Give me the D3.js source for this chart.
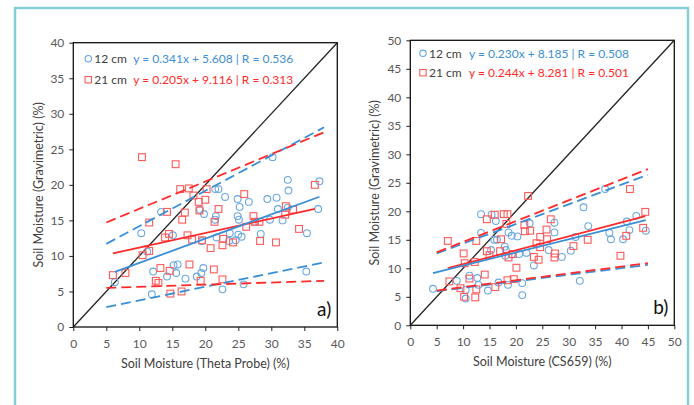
<!DOCTYPE html>
<html>
<head>
<meta charset="utf-8">
<script src="https://cdn.jsdelivr.net/npm/d3@7"></script>
<style>
  body { margin: 0; background: #fff; }
  svg { display: block; font-family: Lato, "Open Sans", sans-serif; }
</style>
</head>
<body>
<svg width="694" height="405"></svg>
<script>
// panel a) Theta Probe vs gravimetric
var a12 = [[6.3,6.3],[10.3,13.2],[11.2,10.6],[12.1,7.8],[11.9,4.6],[13.3,16.2],[14.2,7.1],[15.1,12.9],[15.2,8.7],[15.8,8.8],
    [15.6,7.6],[17.0,6.8],[18.7,7.1],[19.4,7.6],[19.7,8.3],[19.2,16.5],[19.8,15.9],[19.5,12.1],[21.5,19.4],[22.0,19.4],
    [23.0,18.3],[24.9,18.0],[25.2,16.9],[26.6,17.6],[21.6,15.6],[21.5,15.1],[24.9,15.6],[25.1,15.1],[21.7,12.6],[23.7,13.2],
    [23.6,12.1],[24.6,12.2],[25.0,13.0],[25.5,12.7],[22.6,5.3],[25.8,6.0],[27.5,14.8],[28.4,13.1],[29.4,18.0],[29.8,15.1],
    [30.8,18.2],[30.2,23.9],[31.0,16.6],[31.7,15.0],[32.5,20.7],[32.6,19.2],[32.5,16.8],[35.4,13.2],[35.3,7.8],[37.3,20.5],
    [37.1,16.6]];
var a21 = [[6.0,7.3],[7.9,7.6],[10.4,23.9],[10.5,10.1],[11.5,10.7],[11.5,14.7],[12.5,6.5],[12.9,6.2],[13.2,8.3],[13.9,12.6],
    [14.5,13.1],[14.2,16.2],[14.6,7.9],[14.7,4.7],[15.5,22.9],[16.2,19.4],[16.4,5.0],[16.5,15.1],[16.9,16.1],[17.3,12.9],
    [17.5,19.5],[17.6,8.8],[18.0,12.3],[18.2,18.5],[19.0,17.6],[19.1,16.4],[19.3,6.5],[19.5,12.2],[20.0,17.9],[20.2,19.4],
    [20.8,11.1],[21.3,8.1],[21.4,14.8],[22.0,16.6],[22.6,11.5],[22.6,6.7],[22.7,12.4],[24.2,11.9],[25.9,18.7],[26.2,14.1],
    [27.3,15.6],[27.5,14.8],[28.2,14.8],[28.3,12.1],[30.7,11.9],[32.1,15.8],[32.2,17.0],[33.3,16.5],[34.2,13.8],[36.6,20.0]];
var aFit12 = {slope: 0.341, icpt: 5.608, r: 0.536};
var aFit21 = {slope: 0.205, icpt: 9.116, r: 0.313};
// dashed bands, end points
var aBand12 = [[[5, 11.7], [38, 28.1]], [[5, 2.8], [38, 9.1]]];
var aBand21 = [[[5, 14.7], [38, 27.4]], [[5, 5.5], [38, 6.5]]];

// panel b) CS659 vs gravimetric
var b12 = [[4.3,6.4],[8.8,7.8],[10.5,6.2],[10.5,4.7],[11.2,8.7],[12.7,8.3],[12.9,7.1],[14.7,6.1],[13.4,19.5],[13.4,16.2],
    [15.4,19.4],[16.2,18.3],[15.3,13.2],[15.9,15.0],[16.4,15.0],[17.9,13.8],[18.1,13.2],[18.0,12.2],[18.6,16.3],[19.2,15.7],
    [20.3,15.6],[19.2,12.4],[20.6,12.5],[22.0,12.7],[16.7,7.5],[18.5,7.1],[21.2,7.4],[21.2,5.3],[23.4,10.5],[22.6,17.9],
    [26.2,13.2],[27.3,16.3],[27.3,18.0],[28.7,12.0],[30.4,13.1],[31.3,15.5],[32.8,20.7],[32.1,7.8],[33.7,17.4],[36.9,23.9],
    [37.7,16.2],[38.0,15.1],[40.3,15.1],[41.0,18.2],[41.5,16.7],[42.8,19.2],[44.6,16.6]];
var b21 = [[7.1,14.8],[7.4,7.7],[9.5,6.5],[10.1,12.6],[10.3,10.9],[10.2,5.0],[11.2,8.2],[12.2,11.1],[12.5,14.8],[12.5,6.3],
    [12.3,4.9],[14.1,8.9],[14.5,18.6],[14.5,13.0],[15.0,12.3],[16.0,19.4],[16.1,6.7],[17.0,13.0],[17.2,15.1],[17.7,19.5],
    [18.4,19.5],[18.2,17.8],[18.6,11.9],[18.4,7.9],[19.6,8.1],[19.4,12.5],[20.1,10.1],[21.6,17.6],[21.7,16.5],[22.3,22.7],
    [22.7,16.6],[23.4,12.0],[23.9,14.4],[24.3,11.5],[24.6,15.5],[24.6,13.7],[25.8,16.8],[25.9,15.1],[26.6,18.6],[27.4,12.6],
    [27.3,11.9],[30.9,13.9],[33.6,15.0],[39.8,12.2],[40.9,15.7],[41.6,23.9],[44.1,17.1],[44.5,19.9]];
var bFit12 = {slope: 0.230, icpt: 8.185, r: 0.508};
var bFit21 = {slope: 0.244, icpt: 8.281, r: 0.501};
var bBand12 = [[[5, 12.6], [45, 26.4]], [[5, 6.0], [45, 10.6]]];
var bBand21 = [[[5, 12.8], [45, 27.4]], [[5, 6.1], [45, 10.9]]];

var blue = "#3a8fd6", red = "#ff2a2a";

var svg = d3.select("svg");

// outer frame
svg.append("rect")
    .attr("x", 15).attr("y", 8).attr("width", 673).attr("height", 420)
    .attr("fill", "none").attr("stroke", "#86cfd8").attr("stroke-width", 2.5);

var drawPanel = function (p) {
    var x = d3.scaleLinear().domain([0, p.max]).range([p.left, p.right]);
    var y = d3.scaleLinear().domain([0, p.max]).range([p.bottom, p.top]);
    var ticks = d3.range(0, p.max + 1, 5);
    var g = svg.append("g");

    var xAxis = g.append("g")
        .attr("transform", "translate(0," + p.bottom + ")")
        .call(d3.axisBottom(x).tickValues(ticks).tickSizeInner(4).tickSizeOuter(0).tickPadding(8));
    var yAxis = g.append("g")
        .attr("transform", "translate(" + p.left + ",0)")
        .call(d3.axisLeft(y).tickValues(ticks).tickSizeInner(4).tickSizeOuter(0).tickPadding(5));
    [xAxis, yAxis].forEach(function (ax) {
        ax.select(".domain").remove();
        ax.selectAll("line").attr("stroke", "#222");
        ax.selectAll("text").attr("fill", "#595959").style("font-size", "12px").style("font-family", "Lato, sans-serif");
    });

    g.append("rect")
        .attr("x", p.left).attr("y", p.top)
        .attr("width", p.right - p.left).attr("height", p.bottom - p.top)
        .attr("fill", "none").attr("stroke", "#111").attr("stroke-width", 1.3);

    // 1:1 line
    g.append("line")
        .attr("x1", x(0)).attr("y1", y(0)).attr("x2", x(p.max)).attr("y2", y(p.max))
        .attr("stroke", "#222").attr("stroke-width", 1.3);

    var line = d3.line()
        .x(function (d) { return x(d[0]); })
        .y(function (d) { return y(d[1]); });

    // markers
    g.append("g").selectAll("circle")
        .data(p.s12).enter().append("circle")
        .attr("cx", function (d) { return x(d[0]); })
        .attr("cy", function (d) { return y(d[1]); })
        .attr("r", 3.4)
        .attr("fill", "none").attr("stroke", "#6aa8e0").attr("stroke-width", 1.1);
    g.append("g").selectAll("rect")
        .data(p.s21).enter().append("rect")
        .attr("x", function (d) { return x(d[0]) - 3.4; })
        .attr("y", function (d) { return y(d[1]) - 3.4; })
        .attr("width", 6.8).attr("height", 6.8)
        .attr("fill", "none").attr("stroke", "#ff5a5a").attr("stroke-width", 1.1);

    // confidence bands (dashed)
    [[p.band12, blue], [p.band21, red]].forEach(function (b) {
        b[0].forEach(function (seg) {
            g.append("path").datum(seg)
                .attr("d", line)
                .attr("fill", "none").attr("stroke", b[1])
                .attr("stroke-width", 1.8).attr("stroke-dasharray", "10,5");
        });
    });

    // regression lines across the data range
    [[p.s21, p.fit21, red], [p.s12, p.fit12, blue]].forEach(function (f) {
        var ext = d3.extent(f[0], function (d) { return d[0]; });
        var pts = ext.map(function (v) { return [v, f[1].slope * v + f[1].icpt]; });
        g.append("path").datum(pts)
            .attr("d", line)
            .attr("fill", "none").attr("stroke", f[2]).attr("stroke-width", 1.8);
    });

    // legend
    var lx = p.left + p.legX, ly = p.top + p.legY;
    g.append("circle").attr("cx", lx).attr("cy", ly).attr("r", 3.2)
        .attr("fill", "none").attr("stroke", "#6aa8e0").attr("stroke-width", 1.1);
    g.append("rect").attr("x", lx - 3.2).attr("y", ly + p.legGap - 3.2).attr("width", 6.4).attr("height", 6.4)
        .attr("fill", "none").attr("stroke", "#ff5a5a").attr("stroke-width", 1.1);
    [["12 cm", p.fit12, blue, 0], ["21 cm", p.fit21, red, p.legGap]].forEach(function (l) {
        g.append("text").attr("x", lx + 6).attr("y", ly + l[3]).attr("dy", "0.35em")
            .attr("fill", "#404040").style("font-size", "12px").text(l[0]);
        g.append("text").attr("x", lx + p.eqX).attr("y", ly + l[3]).attr("dy", "0.35em")
            .attr("fill", l[2]).style("font-size", "12px")
            .text("y = " + l[1].slope.toFixed(3) + "x + " + l[1].icpt.toFixed(3) + " | R = " + l[1].r.toFixed(3));
    });

    // axis titles
    g.append("text")
        .attr("x", (p.left + p.right) / 2).attr("y", p.bottom + 41)
        .attr("text-anchor", "middle").attr("fill", "#404040").style("font-size", "12.5px")
        .text(p.xTitle);
    g.append("text")
        .attr("transform", "translate(" + p.yTitleX + "," + ((p.top + p.bottom) / 2) + ") rotate(-90)")
        .attr("text-anchor", "middle").attr("dy", "0.35em").attr("fill", "#404040").style("font-size", "12.5px")
        .text("Soil Moisture (Gravimetric) (%)");

    // panel letter
    g.append("text")
        .attr("x", p.right - 6).attr("y", p.bottom - 18).attr("dy", "0.35em")
        .attr("text-anchor", "end").attr("fill", "#111").style("font-size", "19px")
        .text(p.letter);
};

drawPanel({
    max: 40, left: 73.3, right: 337.3, top: 42.7, bottom: 327,
    s12: a12, s21: a21, fit12: aFit12, fit21: aFit21, band12: aBand12, band21: aBand21,
    legX: 15, legY: 16, legGap: 21, eqX: 45,
    xTitle: "Soil Moisture (Theta Probe) (%)", yTitleX: 39, letter: "a)"
});
drawPanel({
    max: 50, left: 410.3, right: 674.3, top: 40.3, bottom: 325.3,
    s12: b12, s21: b21, fit12: bFit12, fit21: bFit21, band12: bBand12, band21: bBand21,
    legX: 12.7, legY: 13, legGap: 19.4, eqX: 46,
    xTitle: "Soil Moisture (CS659) (%)", yTitleX: 375, letter: "b)"
});
</script>
</body>
</html>
